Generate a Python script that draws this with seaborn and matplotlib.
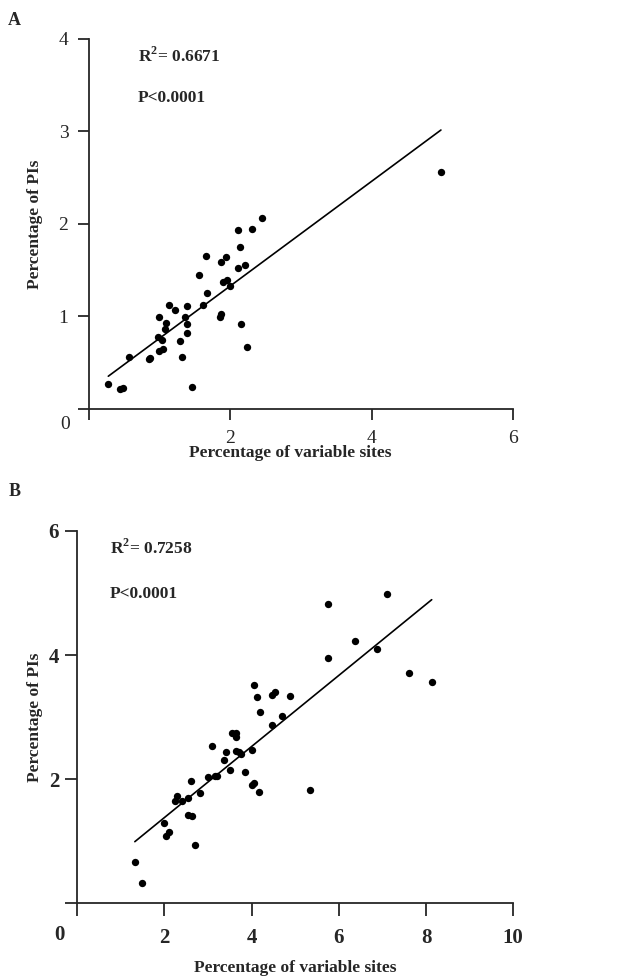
import numpy as np
import pandas as pd
import matplotlib
matplotlib.use("Agg")
import matplotlib.pyplot as plt
import seaborn as sns

# panel A data
var_a = [0.27, 0.44, 0.48, 0.56, 0.85, 0.86, 0.99, 0.98, 0.99, 1.03, 1.05, 1.07, 1.08,
         1.13, 1.21, 1.29, 1.32, 1.36, 1.39, 1.38, 1.39, 1.46, 1.56, 1.61, 1.65, 1.67,
         1.85, 1.86, 1.87, 1.90, 1.94, 1.95, 2.00, 2.11, 2.11, 2.14, 2.15, 2.21, 2.24,
         2.30, 2.45, 4.98]
pis_a = [0.27, 0.22, 0.23, 0.56, 0.54, 0.55, 0.99, 0.78, 0.63, 0.75, 0.65, 0.86, 0.93,
         1.12, 1.07, 0.73, 0.56, 0.99, 1.11, 0.82, 0.92, 0.24, 1.45, 1.12, 1.65, 1.25,
         0.99, 1.03, 1.59, 1.37, 1.64, 1.39, 1.33, 1.94, 1.52, 1.75, 0.92, 1.56, 0.67,
         1.95, 2.07, 2.56]

# panel B data
var_b = [5.76, 7.10, 6.38, 6.88, 5.74, 7.62, 8.13, 4.05, 4.13, 4.47, 4.53, 4.89, 4.18,
         4.69, 4.47, 3.55, 3.65, 3.63, 3.10, 3.40, 3.63, 3.70, 3.75, 4.01, 3.36, 3.51,
         3.84, 2.99, 3.16, 3.20, 4.00, 4.06, 4.16, 5.34, 2.61, 2.81, 2.24, 2.29, 2.40,
         2.55, 2.55, 2.64, 1.99, 2.03, 2.10, 2.71, 1.32, 1.48]
pis_b = [4.82, 4.99, 4.22, 4.10, 3.95, 3.71, 3.57, 3.52, 3.32, 3.36, 3.41, 3.34, 3.08,
         3.02, 2.87, 2.75, 2.75, 2.67, 2.53, 2.44, 2.46, 2.43, 2.40, 2.47, 2.30, 2.15,
         2.12, 2.04, 2.05, 2.05, 1.90, 1.94, 1.79, 1.83, 1.97, 1.78, 1.65, 1.72, 1.64,
         1.70, 1.42, 1.41, 1.29, 1.08, 1.15, 0.94, 0.66, 0.33]

stats_a = ["R$^{\\mathbf{2}}$= 0.6671", "P<0.0001"]
stats_b = ["R$^{\\mathbf{2}}$= 0.7258", "P<0.0001"]

sns.set_style("ticks")
plt.rcParams["font.family"] = ["Liberation Serif", "DejaVu Serif"]
plt.rcParams["mathtext.fontset"] = "custom"
plt.rcParams["mathtext.bf"] = "Liberation Serif:bold"
plt.rcParams["mathtext.rm"] = "Liberation Serif"

df_a = pd.DataFrame({"x": var_a, "y": pis_a})
df_b = pd.DataFrame({"x": var_b, "y": pis_b})

fig = plt.figure(figsize=(6.42, 9.77), dpi=100)
ax1 = fig.add_axes([0.139, 0.5814, 0.660, 0.3787])
ax2 = fig.add_axes([0.1204, 0.0757, 0.679, 0.3808])

for ax, df in [(ax1, df_a), (ax2, df_b)]:
    sns.regplot(x="x", y="y", data=df, ax=ax, ci=None, color="black",
                scatter_kws={"s": 28, "linewidths": 0, "alpha": 1},
                line_kws={"linewidth": 1.2})
    sns.despine(ax=ax)
    ax.spines["left"].set_linewidth(1.3)
    ax.spines["bottom"].set_linewidth(1.3)

# panel A axes
ax1.set_xlim(0, 6)
ax1.set_ylim(0, 4)
ax1.set_xticks([0, 2, 4, 6])
ax1.set_xticklabels(["", "2", "4", "6"])
ax1.set_yticks([0, 1, 2, 3, 4])
ax1.set_yticklabels(["", "1", "2", "3", "4"])
ax1.tick_params(axis="both", direction="out", length=8, width=1.3, labelsize=14, pad=7)
ax1.set_xlabel("Percentage of variable sites", fontsize=12.5, fontweight="bold")
ax1.set_ylabel("Percentage of PIs", fontsize=12.5, fontweight="bold")
ax1.xaxis.set_label_coords(0.475, -0.097)
ax1.yaxis.set_label_coords(-0.109, 0.5)
ax1.text(0.115, 0.955, stats_a[0], transform=ax1.transAxes, fontsize=12.5,
         fontweight="bold", va="center")
ax1.text(0.115, 0.84, stats_a[1], transform=ax1.transAxes, fontsize=12.5,
         fontweight="bold", va="center")

# panel B axes
ax2.set_xlim(0, 10)
ax2.set_ylim(0, 6)
ax2.set_xticks([0, 2, 4, 6, 8, 10])
ax2.set_xticklabels(["", "2", "4", "6", "8", "10"])
ax2.set_yticks([0, 2, 4, 6])
ax2.set_yticklabels(["", "2", "4", "6"])
ax2.tick_params(axis="both", direction="out", length=9, width=1.3, labelsize=15)
ax2.tick_params(axis="x", pad=9)
ax2.tick_params(axis="y", pad=4)
for lab in ax2.get_xticklabels() + ax2.get_yticklabels():
    lab.set_fontweight("bold")
ax2.set_xlabel("Percentage of variable sites", fontsize=12.5, fontweight="bold")
ax2.set_ylabel("Percentage of PIs", fontsize=12.5, fontweight="bold")
ax2.xaxis.set_label_coords(0.50, -0.153)
ax2.yaxis.set_label_coords(-0.079, 0.5)
ax2.text(0.075, 0.955, stats_b[0], transform=ax2.transAxes, fontsize=12.5,
         fontweight="bold", va="center")
ax2.text(0.075, 0.83, stats_b[1], transform=ax2.transAxes, fontsize=12.5,
         fontweight="bold", va="center")

# origin labels and panel letters
fig.text(0.101, 0.565, "0", fontsize=14, ha="center", va="center")
fig.text(0.092, 0.043, "0", fontsize=15, fontweight="bold", ha="center", va="center")
fig.text(0.023, 0.979, "A", fontsize=13, fontweight="bold", ha="center", va="center")
fig.text(0.023, 0.497, "B", fontsize=13, fontweight="bold", ha="center", va="center")

fig.savefig("out.png", dpi=100)
